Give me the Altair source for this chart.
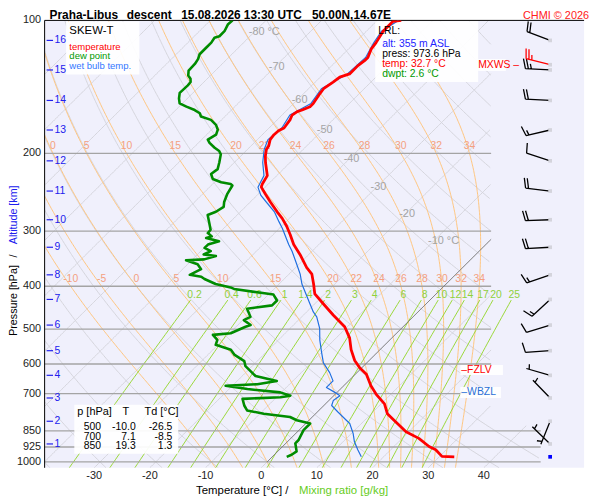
import math
import numpy as np
import pandas as pd
import altair as alt

FONT = "Liberation Sans"

# ---------------- data ----------------
temp_p = [100, 100.5, 105.8, 112.3, 116.2, 121.3, 123.4, 126.6, 132.2, 134.4,
          137.9, 142.8, 147.7, 154.2, 156.8, 159.6, 160.9, 163.8, 168.0, 175.3,
          177.8, 181.5, 186.2, 192.6, 196.0, 202.8, 209.8, 224.7, 234.6, 238.6,
          247.0, 257.7, 271.3, 280.8, 293.0, 305.8, 321.9, 338.8, 363.0, 375.5,
          395.4, 416.3, 438.2, 465.3, 494.0, 523.6, 556.8, 589.1, 611.7, 633.2,
          672.4, 701.8, 738.8, 777.7, 797.9, 854.3, 884.3, 922.6, 938.7, 971.2,
          973.6]
temp_T = [-55.7, -57.0, -57.0, -56.2, -55.9, -55.0, -55.0, -55.3, -55.3, -56.5,
          -56.8, -57.3, -57.0, -56.5, -56.5, -57.3, -57.9, -58.2, -57.7, -57.3,
          -57.8, -57.9, -57.7, -56.8, -56.6, -55.6, -54.4, -51.7, -51.1, -50.7,
          -48.8, -46.4, -43.4, -41.3, -39.0, -36.9, -34.5, -31.6, -28.0, -25.9,
          -23.8, -21.8, -18.5, -14.6, -10.5, -7.6, -5.2, -2.6, -0.4, 2.0,
          4.9, 7.3, 10.6, 12.9, 14.7, 19.5, 23.0, 26.3, 28.1, 30.4,
          32.7]

dew_p = [100, 102.2, 105.8, 108.6, 109.5, 112.3, 115.2, 119.3, 122.4, 125.5,
         130.0, 133.3, 135.6, 137.9, 140.3, 145.9, 150.3, 154.2, 156.8, 159.6,
         162.3, 165.1, 168.0, 172.4, 176.8, 181.5, 186.2, 189.4, 194.3, 197.6,
         201.1, 209.8, 217.2, 222.8, 228.6, 232.5, 234.6, 236.5, 247.0, 257.7,
         264.4, 271.3, 275.9, 288.1, 298.0, 303.2, 308.4, 311.2, 316.5, 321.9,
         327.6, 333.2, 338.8, 341.8, 347.7, 349.4, 356.7, 365.9, 376.9, 380.6,
         385.2, 395.4, 402.4, 405.7, 412.9, 417.8, 430.8, 442.0, 449.6, 469.3,
         477.3, 489.7, 494.0, 511.0, 515.4, 529.0, 542.8, 556.8, 571.3, 591.3,
         606.7, 622.5, 638.8, 655.3, 666.6, 672.4, 683.9, 695.7, 707.8, 713.7,
         719.8, 745.0, 764.4, 777.7, 791.0, 804.6, 818.4, 847.1, 892.0, 907.3,
         946.5, 963.2, 973.6]
dew_T = [-86.0, -86.1, -85.5, -85.5, -86.1, -85.8, -85.8, -85.8, -85.2, -84.9,
         -84.8, -84.0, -83.0, -82.4, -82.3, -82.4, -81.5, -80.5, -78.7, -76.6,
         -75.1, -74.3, -71.9, -70.1, -68.9, -68.3, -68.9, -68.0, -66.2, -64.8,
         -63.9, -62.7, -61.8, -62.1, -60.9, -58.8, -56.8, -56.2, -55.6, -54.7,
         -53.9, -54.4, -55.3, -53.5, -52.1, -52.0, -50.7, -51.4, -48.5, -49.9,
         -49.9, -48.2, -48.9, -46.4, -47.9, -51.0, -48.2, -46.7, -47.7, -45.3,
         -44.3, -41.4, -38.1, -37.2, -32.4, -29.1, -27.4, -27.4, -31.3, -29.2,
         -29.8, -27.7, -28.3, -29.8, -32.7, -31.0, -30.4, -26.8, -25.3, -22.3,
         -21.2, -19.4, -17.6, -12.9, -15.8, -21.2, -16.7, -10.2, -7.8, -9.3,
         -15.8, -14.3, -12.9, -9.3, -4.0, -2.2, 0.8, 0.8, 1.7, 1.7,
         3.4, 3.1, 2.6]

wb_p = [100, 105.8, 112.3, 121.3, 132.2, 142.8, 154.2, 163.8, 175.3, 186.2,
        196.0, 209.8, 224.7, 238.6, 249.0, 260.0, 271.3, 285.6, 295.6, 321.9,
        333.2, 356.7, 375.5, 395.4, 412.9, 438.2, 457.4, 469.3, 498.2, 529.0,
        566.3, 596.3, 627.6, 655.3, 678.0, 695.7, 707.8, 726.1, 745.0, 770.7,
        804.6, 818.4, 861.8, 899.2, 938.7, 973.6]
wb_T = [-56.2, -57.3, -56.6, -55.4, -55.7, -57.7, -56.9, -58.6, -57.7, -58.1,
        -57.0, -54.9, -52.3, -51.3, -49.3, -46.6, -43.9, -41.3, -39.5, -35.4,
        -33.6, -30.4, -28.0, -25.9, -23.8, -20.9, -18.8, -17.3, -14.7, -12.6,
        -9.9, -7.8, -4.9, -2.8, -2.8, -0.4, 1.1, 0.8, 1.4, 3.7,
        6.7, 7.9, 10.3, 12.0, 14.1, 16.0]

table_p = [500, 700, 850]
table_T = [-10.0, 7.1, 19.3]
table_Td = [-26.5, -8.5, 1.3]

lrl_alt, lrl_p, lrl_T, lrl_Td = 355, 973.6, 32.7, 2.6
fzlv_p, wbzl_p = 620, 696

alt_km = list(range(1, 17))
alt_p = [910.4, 808.8, 716.4, 636.5, 559.8, 489.8, 428.5, 376.9,
         326.4, 282.8, 243.5, 208.0, 177.1, 151.8, 129.5, 111.0]

wind_p = [111.0, 129.5, 151.8, 177.1, 208.0, 243.5, 282.8, 326.4,
          376.9, 428.5, 489.8, 559.8, 636.5, 716.4, 808.8, 910.4]
wind_dir = [291, 273, 273, 257, 288, 277, 268, 267,
            251, 227, 253, 266, 286, 316, 202, 314]
wind_spd = [20, 25, 20, 15, 10, 20, 20, 20,
            15, 15, 10, 10, 5, 5, 5, 5]
mxws_p, mxws_dir, mxws_spd = 126.0, 284, 25

pressure_ticks = [100, 200, 300, 400, 500, 600, 700, 850, 925, 1000]
temp_ticks = [-30, -20, -10, 0, 10, 20, 30, 40]
isotherm_T = list(range(-120, 51, 10))
theta_C = list(range(-40, 191, 10))
theta_w = [-10, -5, 0, 5, 10, 15, 20, 22, 24, 26, 28, 30, 32, 34]
mix_w = [0.2, 0.4, 0.6, 1, 1.4, 2, 3, 4, 6, 8, 10, 12, 14, 17, 20, 25]
iso_lab_T = [-80, -70, -60, -50, -40, -30, -20, -10]
iso_lab_p = [106, 127.5, 151.1, 177.1, 205.6, 238.6, 274.5, 315.4]

# ---------------- diagram geometry ----------------
K = 79.8          # skew (degC per decade of pressure)
PB = 1031.0       # pressure at the bottom edge
XMIN, XMAX = -38.9, 58.0
W, H = 545, 452
RIGHT_UP, RIGHT_LOW = 41.3, 50.2


def skew(T, p):
    return T + K * math.log10(PB / p)


def px(xp):
    return xp - 45.0


def py(yp):
    return (yp - 15.7) * H / 454.3


pg = np.geomspace(100, PB, 320)
grid_rows = []


def add_line(kind, name, ps, Ts, limited=True):
    seg = 0
    prev = False
    for p, T in zip(ps, Ts):
        p = float(p)
        X = skew(float(T), p)
        lim = (RIGHT_UP if p < 825 else RIGHT_LOW) if limited else XMAX + 5
        ins = (XMIN - 3 <= X <= lim)
        if ins:
            grid_rows.append({"kind": kind, "id": f"{name}_{seg}", "p": round(p, 2),
                              "X": round(X, 3), "i": len(grid_rows)})
        elif prev:
            seg += 1
        prev = ins


for T in isotherm_T:
    add_line("iso", f"iso{T}", pg, [T] * len(pg))
for th in theta_C:
    add_line("dry", f"dry{th}", pg, (th + 273.15) * (pg / 1000.0) ** 0.2857 - 273.15)


def moist_curve(thw):
    def f(p, T):
        e = 6.112 * math.exp(17.67 * (T - 273.15) / (T - 29.65))
        rs = 0.622 * e / (p - e)
        return (287.04 * T + 2.501e6 * rs) / (1005.7 + (2.501e6 ** 2) * rs * 0.622 / (287.04 * T * T)) / p

    def integ(p0, p1, n, T0):
        ps, Ts = [p0], [T0]
        h = (p1 - p0) / n
        p, T = p0, T0
        for _ in range(n):
            k1 = f(p, T)
            k2 = f(p + h / 2, T + h / 2 * k1)
            k3 = f(p + h / 2, T + h / 2 * k2)
            k4 = f(p + h, T + h * k3)
            T += h / 6 * (k1 + 2 * k2 + 2 * k3 + k4)
            p += h
            ps.append(p)
            Ts.append(T)
        return ps, Ts

    up_p, up_T = integ(1000.0, 100.0, 900, thw + 273.15)
    dn_p, dn_T = integ(1000.0, PB, 31, thw + 273.15)
    P = np.array(dn_p[::-1] + up_p[1:])
    T = np.array(dn_T[::-1] + up_T[1:])
    lp = np.log(P[::-1])
    tt = T[::-1]
    return lambda pp: np.interp(np.log(pp), lp, tt) - 273.15


moist_lab = []
for thw in theta_w:
    fn = moist_curve(thw)
    add_line("moist", f"m{thw}", pg, fn(pg))
    for pl in (200, 400):
        if pl == 200 and thw < 0:
            continue
        X = skew(float(fn(pl)), pl)
        if XMIN < X < RIGHT_UP:
            moist_lab.append({"X": X, "p": pl, "t": f"{thw:g}"})


def mix_T(w, p):
    e = w * p / (622.0 + w)
    a = math.log(e / 6.112)
    return 243.5 * a / (17.67 - a)


pm = np.geomspace(430, PB, 40)
mix_lab = []
for w in mix_w:
    add_line("mix", f"w{w}", pm, [mix_T(w, p) for p in pm], limited=False)
    mix_lab.append({"X": skew(mix_T(w, 418), 418), "p": 418, "t": f"{w:g}"})

iso_lab = [{"X": skew(T, p), "p": p, "t": (f"{T} °C" if T in (-80, -10) else f"{T}")}
           for T, p in zip(iso_lab_T, iso_lab_p)]

grid_df = pd.DataFrame(grid_rows)

xs = alt.Scale(domain=[XMIN, XMAX], nice=False, zero=False)
ys = alt.Scale(type="log", domain=[100, PB], reverse=True, nice=False)

layers = []

grid = alt.Chart(grid_df).mark_line(clip=True, strokeWidth=1).encode(
    x=alt.X("X:Q", scale=xs, axis=None),
    y=alt.Y("p:Q", scale=ys, axis=None),
    detail="id:N",
    order="i:Q",
    color=alt.Color("kind:N", scale=alt.Scale(domain=["iso", "dry", "moist", "mix"],
                                             range=["#d4d4dc", "#d4d4dc", "#ffc47c", "#9ad83a"]),
                    legend=None),
)
layers.append(grid)

# horizontal pressure lines
hl_p = [200, 300, 400, 500, 600, 700, 850, 925, 1000]
hl_df = pd.DataFrame({"p": hl_p, "x0": [XMIN] * len(hl_p),
                      "x1": [RIGHT_UP if p < 825 else RIGHT_LOW for p in hl_p]})
layers.append(alt.Chart(hl_df).mark_rule(color="#a4a4a4", strokeWidth=1.3).encode(
    x=alt.X("x0:Q", scale=xs, axis=None), x2="x1:Q", y=alt.Y("p:Q", scale=ys, axis=None)))

# 0 degC isotherm
p_top0 = PB / 10 ** (RIGHT_UP / K)
zero_df = pd.DataFrame({"p": [1000, p_top0], "T": [0, 0]})
layers.append(alt.Chart(zero_df).transform_calculate(
    X=f"datum.T + {K}*log({PB}/datum.p)/LN10").mark_line(color="#707070", strokeWidth=0.8).encode(
    x=alt.X("X:Q", scale=xs, axis=None), y=alt.Y("p:Q", scale=ys, axis=None)))

# frame: top line and left axis line
layers.append(alt.Chart(pd.DataFrame({"p": [100]})).mark_rule(color="black", strokeWidth=1).encode(
    y=alt.Y("p:Q", scale=ys, axis=None)))
layers.append(alt.Chart(pd.DataFrame({"z": [0]})).mark_rule(color="black", strokeWidth=1).encode(
    x=alt.value(0)))

# axis labels (pressure and temperature)
layers.append(alt.Chart(pd.DataFrame({"p": pressure_ticks, "t": [str(v) for v in pressure_ticks]})).mark_text(
    font=FONT, fontSize=11, color="#222", align="right", baseline="middle").encode(
    x=alt.value(px(41.5)), y=alt.Y("p:Q", scale=ys, axis=None), text="t:N"))
layers.append(alt.Chart(pd.DataFrame({"T": temp_ticks, "t": [str(v) for v in temp_ticks]})).mark_text(
    font=FONT, fontSize=11, color="#222", align="center", baseline="middle").encode(
    x=alt.X("T:Q", scale=xs, axis=None), y=alt.value(H + 8.5), text="t:N"))

# grid labels
layers.append(alt.Chart(pd.DataFrame(moist_lab)).mark_text(
    font=FONT, fontSize=10.5, color="#f4a080", dy=-7, baseline="middle").encode(
    x=alt.X("X:Q", scale=xs, axis=None), y=alt.Y("p:Q", scale=ys, axis=None), text="t:N"))
layers.append(alt.Chart(pd.DataFrame(mix_lab)).mark_text(
    font=FONT, fontSize=10.5, color="#8fd13c", baseline="middle").encode(
    x=alt.X("X:Q", scale=xs, axis=None), y=alt.Y("p:Q", scale=ys, axis=None), text="t:N"))
layers.append(alt.Chart(pd.DataFrame(iso_lab)).mark_text(
    font=FONT, fontSize=11, color="#a4a4a4", align="left", dx=-6, baseline="middle").encode(
    x=alt.X("X:Q", scale=xs, axis=None), y=alt.Y("p:Q", scale=ys, axis=None), text="t:N"))

one = pd.DataFrame({"z": [0]})


def txt(s, x, y, size=10.5, color="black", align="left", weight="normal", angle=None, baseline="middle"):
    kw = dict(text=s, align=align, baseline=baseline, font=FONT, fontSize=size, color=color, fontWeight=weight)
    if angle is not None:
        kw["angle"] = angle
    return alt.Chart(one).mark_text(**kw).encode(x=alt.value(x), y=alt.value(y))


def box(x0, x1, y0, y1, op=0.92):
    return alt.Chart(one).mark_rect(color="white", opacity=op).encode(
        x=alt.value(x0), x2=alt.value(x1), y=alt.value(y0), y2=alt.value(y1))


# annotation boxes
layers += [
    box(px(66.7), px(140.7), py(16.7), py(70.7)),
    box(px(379), px(483), py(16.5), py(78.3)),
    box(px(75), px(180), py(406), py(455.7)),
    box(px(465), px(508), py(365.7), py(375.7)),
    box(px(465), px(506), py(388), py(399)),
    box(px(483), px(511), py(55), py(67)),
]


# profiles
def prof(ps, Ts, color, width):
    df = pd.DataFrame({"p": ps, "T": Ts, "i": list(range(len(ps)))})
    return alt.Chart(df).transform_calculate(
        X=f"datum.T + {K}*log({PB}/datum.p)/LN10").mark_line(
        color=color, strokeWidth=width, strokeJoin="round", clip=True).encode(
        x=alt.X("X:Q", scale=xs, axis=None), y=alt.Y("p:Q", scale=ys, axis=None), order="i:Q")


layers.append(prof(wb_p, wb_T, "#1f6fe0", 1.2))
layers.append(prof(dew_p, dew_T, "#008c00", 2.6))
layers.append(prof(temp_p, temp_T, "#ff0000", 2.8))

# altitude scale
alt_df = pd.DataFrame({"p": alt_p, "km": [str(k) for k in alt_km]})
layers.append(alt.Chart(alt_df).mark_rule(color="#2020ee", strokeWidth=1.2).encode(
    x=alt.value(px(47)), x2=alt.value(px(53.5)), y=alt.Y("p:Q", scale=ys, axis=None)))
layers.append(alt.Chart(alt_df).mark_text(font=FONT, fontSize=10.5, color="#2020ee", align="left",
                                          baseline="middle").encode(
    x=alt.value(px(55)), y=alt.Y("p:Q", scale=ys, axis=None), text="km:N"))


# wind barbs
def barb_path(spd):
    parts = ["M0,0L0,-1"]
    full = spd // 10
    half = (spd % 10) >= 5
    pos = 1.0 if full > 0 else 0.88
    for _ in range(full):
        parts.append(f"M0,{-pos:.3f}L0.4,{-pos - 0.1:.3f}")
        pos -= 0.12
    if half:
        parts.append(f"M0,{-pos:.3f}L0.2,{-pos - 0.05:.3f}")
    return "".join(parts)


spd_keys = sorted(set(wind_spd + [mxws_spd]))
wind_df = pd.DataFrame({
    "p": wind_p + [mxws_p],
    "dir": wind_dir + [mxws_dir],
    "spd": [str(s) for s in wind_spd + [mxws_spd]],
    "kind": ["n"] * len(wind_p) + ["max"],
})
WX = px(555.7)
layers.append(alt.Chart(wind_df).mark_point(filled=False, strokeWidth=1.3, size=2500, opacity=1).encode(
    x=alt.value(WX), y=alt.Y("p:Q", scale=ys, axis=None),
    shape=alt.Shape("spd:N", scale=alt.Scale(domain=[str(s) for s in spd_keys],
                                             range=[barb_path(s) for s in spd_keys]), legend=None),
    angle=alt.Angle("dir:Q", scale=alt.Scale(domain=[0, 360], range=[0, 360])),
    stroke=alt.Stroke("kind:N", scale=alt.Scale(domain=["n", "max"], range=["#000000", "#ff0000"]), legend=None),
))
layers.append(alt.Chart(wind_df).mark_square(size=14, opacity=1).encode(
    x=alt.value(WX), y=alt.Y("p:Q", scale=ys, axis=None),
    color=alt.Color("kind:N", scale=alt.Scale(domain=["n", "max"], range=["#000000", "#ff0000"]), legend=None),
))
layers.append(alt.Chart(pd.DataFrame({"p": [lrl_p]})).mark_square(size=14, opacity=1, color="#0000ff").encode(
    x=alt.value(WX), y=alt.Y("p:Q", scale=ys, axis=None)))

# table
tab_df = pd.DataFrame({
    "ps": [str(p) for p in table_p],
    "Ts": [f"{v:.1f}" for v in table_T],
    "Tds": [f"{v:.1f}" for v in table_Td],
    "ypx": [py(428.3 + 10 * k) for k in range(len(table_p))],
})
for col, xr in (("ps", 102), ("Ts", 137), ("Tds", 174)):
    layers.append(alt.Chart(tab_df).mark_text(font=FONT, fontSize=10.5, align="right",
                                              baseline="middle", color="black").encode(
        x=alt.value(px(xr)), y=alt.Y("ypx:Q", scale=None), text=f"{col}:N"))
layers += [
    txt("p [hPa]", px(78), py(413.3), size=11),
    txt("T", px(127), py(413.3), size=11, align="center"),
    txt("Td [°C]", px(146), py(413.3), size=11),
]

# legend
layers += [
    txt("SKEW-T", px(70), py(26), size=11.5),
    txt("temperature", px(70), py(42.3), size=9.6, color="#ff0000"),
    txt("dew point", px(70), py(52), size=9.6, color="#009900"),
    txt("wet bulb temp.", px(70), py(62.5), size=9.6, color="#3377ff"),
]

# LRL info
layers += [
    txt("LRL:", px(382), py(26.7), size=10.5),
    txt(f"alt: {lrl_alt} m ASL", px(386), py(40), size=10.5, color="#2222ff"),
    txt(f"press: {lrl_p:.1f} hPa", px(386), py(50), size=10.5),
    txt(f"temp: {lrl_T:.1f} °C", px(386), py(60.3), size=10.5, color="#ff0000"),
    txt(f"dwpt: {lrl_Td:.1f} °C", px(386), py(70.3), size=10.5, color="#009900"),
]

# level markers
layers += [
    txt("–FZLV", px(466), py(371), size=10.5, color="#ff0000"),
    txt("–WBZL", px(466), py(393.5), size=10.5, color="#2a6fd6"),
    txt("MXWS –", px(483), py(61), size=10.5, color="#ff0000"),
]

# titles
layers += [
    txt("Praha-Libus", px(50), -1.5, size=12, weight="bold", baseline="alphabetic"),
    txt("descent", px(128), -1.5, size=12, weight="bold", baseline="alphabetic"),
    txt("15.08.2026 13:30 UTC", px(183), -1.5, size=12, weight="bold", baseline="alphabetic"),
    txt("50.00N,14.67E", px(315), -1.5, size=12, weight="bold", baseline="alphabetic"),
    txt("CHMI © 2026", px(595), -1.5, size=11, color="#ff2020", align="right", baseline="alphabetic"),
    txt("Temperature [°C]  /", px(198), 493 - 18, size=11.5),
    txt("Mixing ratio [g/kg]", px(302), 493 - 18, size=11.5, color="#66cc22"),
    txt("Pressure [hPa]", px(14.5), py(336), size=10.8, angle=270),
    txt("/", px(14.5), py(255), size=10.8, angle=270, align="center"),
    txt("Altitude [km]", px(14.5), py(243), size=10.8, angle=270, color="#2020ee"),
]

chart = alt.layer(*layers).properties(
    width=W, height=H,
    padding={"left": 37, "top": 10, "right": 8, "bottom": 30},
    autosize=alt.AutoSizeParams(type="none"),
    background="white",
).configure_view(fill="#f0f0fc", stroke=None)

chart.save("out.html", embed_options={"renderer": "svg", "actions": False})
